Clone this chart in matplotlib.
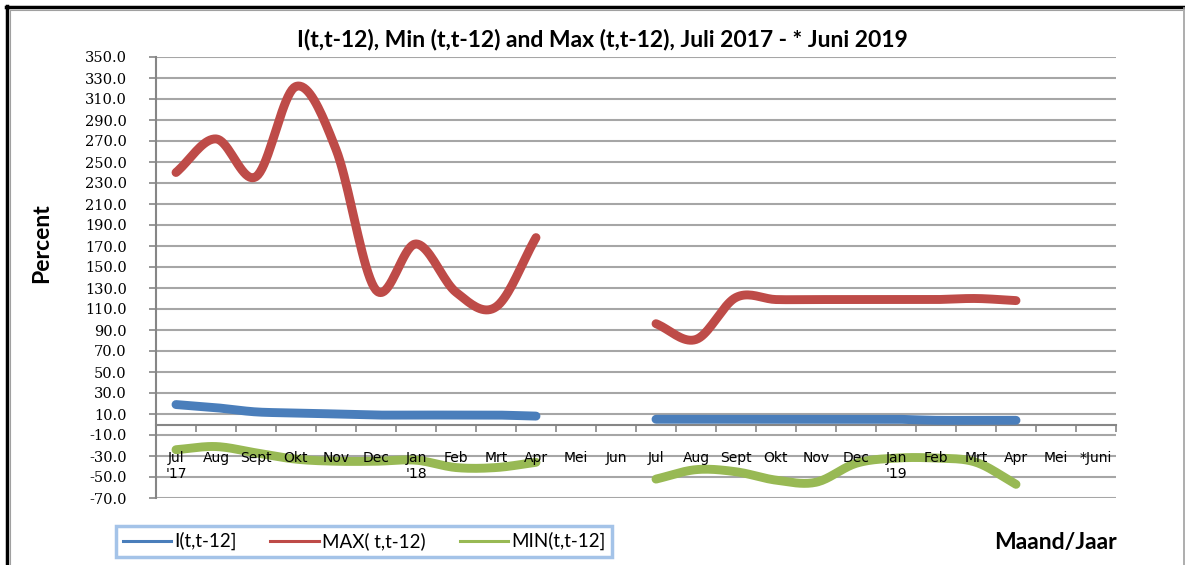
import numpy as np
import matplotlib
matplotlib.use("Agg")
import matplotlib.pyplot as plt
from matplotlib.lines import Line2D

# ---- data ----
months = ["Jul\n'17", "Aug", "Sept", "Okt", "Nov", "Dec", "Jan\n'18", "Feb", "Mrt", "Apr", "Mei", "Jun",
          "Jul", "Aug", "Sept", "Okt", "Nov", "Dec", "Jan\n'19", "Feb", "Mrt", "Apr", "Mei", "*Juni"]
nan = np.nan
i_vals = [19, 16, 12, 11, 10, 9, 9, 9, 9, 8, nan, nan,
          5, 5, 5, 5, 5, 5, 5, 4, 4, 4, nan, nan]
max_vals = [240, 272, 236, 322, 262, 128, 172, 126, 112, 178, nan, nan,
            96, 81, 121, 119, 119, 119, 119, 119, 120, 118, nan, nan]
min_vals = [-24, -21, -27, -33, -35, -35, -34, -41, -41, -36, nan, nan,
            -52, -43, -45, -53, -55, -37, -32, -32, -36, -57, nan, nan]
yticks = list(range(-70, 351, 20))

series_names = ["I(t,t-12]", "MAX( t,t-12)", "MIN(t,t-12]"]
colors = ["#4A7EBB", "#BE4B48", "#98B954"]


def smooth(xs, ys, n=20):
    """Catmull-Rom style smoothing of a polyline (drawing only)."""
    xs = np.asarray(xs, float)
    ys = np.asarray(ys, float)
    if len(xs) < 3:
        return xs, ys
    m = np.zeros_like(ys)
    m[1:-1] = (ys[2:] - ys[:-2]) / 2
    m[0] = ys[1] - ys[0]
    m[-1] = ys[-1] - ys[-2]
    ox, oy = [], []
    t = np.linspace(0, 1, n, endpoint=False)
    for k in range(len(xs) - 1):
        h00 = 2 * t**3 - 3 * t**2 + 1
        h10 = t**3 - 2 * t**2 + t
        h01 = -2 * t**3 + 3 * t**2
        h11 = t**3 - t**2
        ox.extend(xs[k] + t * (xs[k + 1] - xs[k]))
        oy.extend(h00 * ys[k] + h10 * m[k] + h01 * ys[k + 1] + h11 * m[k + 1])
    ox.append(xs[-1])
    oy.append(ys[-1])
    return np.array(ox), np.array(oy)


fig = plt.figure(figsize=(11.85, 5.65), dpi=100)
W, H = 1185, 565
ax = fig.add_axes([156 / W, 1 - 498 / H, (1116 - 156) / W, (498 - 57) / H])

x = np.arange(len(months))
for vals, col in zip([i_vals, max_vals, min_vals], colors):
    v = np.array(vals, float)
    ok = ~np.isnan(v)
    idx = np.where(ok)[0]
    runs = np.split(idx, np.where(np.diff(idx) > 1)[0] + 1)
    for r in runs:
        sx, sy = smooth(x[r], v[r])
        ax.plot(sx, sy, color=col, lw=6.4, solid_capstyle="round", solid_joinstyle="round", zorder=3)

ax.set_xlim(-0.5, len(months) - 0.5)
ax.set_ylim(-70, 350)
ax.set_yticks(yticks)
ax.set_yticklabels([f"{t:.1f}" for t in yticks], family="DejaVu Serif", fontsize=10.5)
ax.yaxis.grid(True, color="#A6A6A6", lw=1.5)
ax.set_axisbelow(True)

ax.set_xticks(x)
ax.set_xticklabels(months, family="Lato", fontsize=11.5, linespacing=1.25, va="top")
ax.set_xticks(np.arange(-0.5, len(months), 1), minor=True)
ax.tick_params(axis="x", which="major", length=0, pad=19)
ax.tick_params(axis="x", which="minor", length=5, color="#868686", width=1.2, direction="out")
ax.tick_params(axis="y", length=5, color="#868686", width=1.2, direction="out", pad=16)
ax.xaxis.set_zorder(4)

for s in ["top", "right"]:
    ax.spines[s].set_visible(False)
ax.spines["bottom"].set_position(("data", 0))
ax.spines["bottom"].set_color("#868686")
ax.spines["left"].set_color("#868686")
ax.spines["left"].set_linewidth(1.5)
ax.spines["bottom"].set_linewidth(1.5)

fig.text(602 / W, 1 - 40 / H, "I(t,t-12), Min (t,t-12) and Max (t,t-12), Juli 2017 - * Juni 2019",
         ha="center", va="center", family="Lato", fontweight="bold", fontsize=16.5)
fig.text(42 / W, 1 - 243 / H, "Percent", rotation=90, ha="center", va="center",
         family="Lato", fontweight="bold", fontsize=16.5)
fig.text(1056 / W, 1 - 543 / H, "Maand/Jaar", ha="center", va="center",
         family="Lato", fontweight="bold", fontsize=16.5)

handles = [Line2D([], [], color=c, lw=2.2) for c in colors]
leg = fig.legend(handles, series_names, loc="lower left", ncol=3,
                 bbox_to_anchor=(116 / W, 1 - 557 / H, (612 - 116) / W, (557 - 522) / H),
                 mode="expand", frameon=True, fancybox=False, borderaxespad=0,
                 prop={"family": "Lato", "size": 13.5}, handlelength=2.6, handletextpad=0.15,
                 columnspacing=0.8, borderpad=0.35)
leg.get_frame().set_edgecolor("#8EB4E3")
leg.get_frame().set_linewidth(2.5)

# outer frame
fig.add_artist(Line2D([6 / W, 1184 / W], [1 - 6.5 / H, 1 - 6.5 / H], color="black", lw=2.5))
fig.add_artist(Line2D([6.5 / W, 6.5 / W], [0, 1 - 6 / H], color="black", lw=2.5))
fig.add_artist(Line2D([9.5 / W, 1182 / W], [1 - 9.5 / H, 1 - 9.5 / H], color="#A0A0A0", lw=0.8))
fig.add_artist(Line2D([9.5 / W, 9.5 / W], [0, 1 - 9.5 / H], color="#A0A0A0", lw=0.8))
fig.add_artist(Line2D([1183.5 / W, 1183.5 / W], [0, 1 - 8 / H], color="#A0A0A0", lw=1.2))

fig.savefig("out.png", dpi=100)
